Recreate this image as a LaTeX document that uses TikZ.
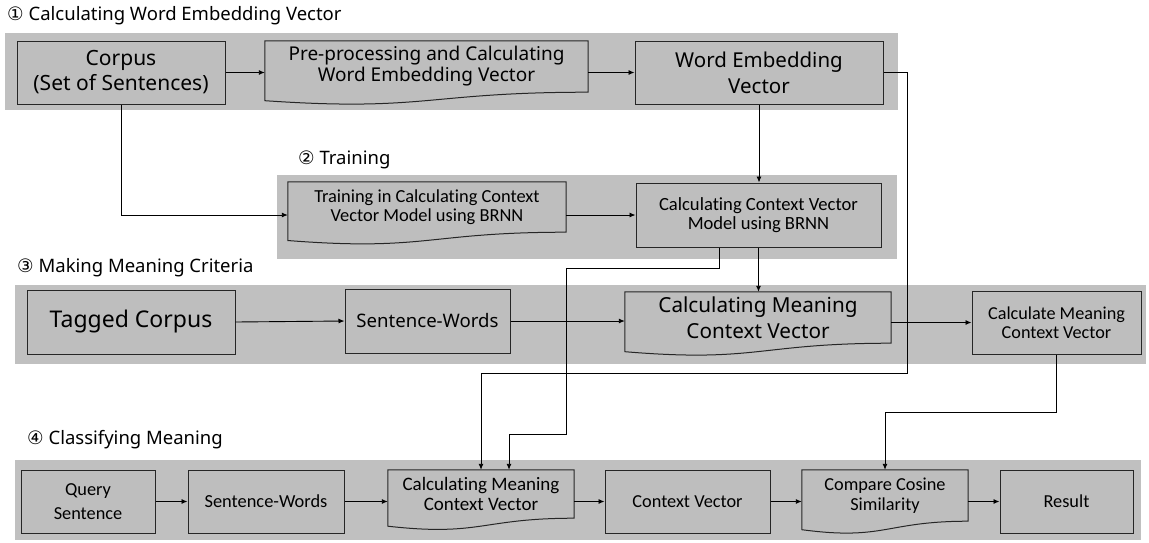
\documentclass[tikz,border=0pt]{standalone}
\usepackage{fontspec}
\setmainfont{Noto Sans}
\newfontfamily\calib[Ligatures=NoCommon]{Carlito}
\newfontfamily\circfont{DejaVu Sans}
\usetikzlibrary{arrows.meta,calc}

\definecolor{bandgray}{RGB}{192,192,192}
\definecolor{boxgray}{RGB}{190,190,190}

\begin{document}
\begin{tikzpicture}[x=1pt,y=-1pt,
    box/.style={draw=black!85, fill=boxgray, line width=1pt, align=center, inner sep=0pt},
    wavebox/.style={fill=boxgray, align=center, inner sep=0pt},
    arr/.style={-{Latex[length=6pt,width=5pt]}, line width=0.9pt},
    title/.style={anchor=west, inner sep=0pt, font=\fontsize{18.5}{22}\selectfont}]
\useasboundingbox (0,0) rectangle (1149,542);

%---------------------------------------------------------------------------------------- BANDS
\fill[bandgray] (5,33) rectangle (898,110);
\fill[bandgray] (277,175) rectangle (897,259);
\fill[bandgray] (15,285) rectangle (1146,364);
\fill[bandgray] (15,460) rectangle (1141,540);

\node[title] (ttlA) at (7,16) {{\circfont ①} Calculating Word Embedding Vector};   %------ step titles
\node[title] (ttlB) at (298,160) {{\circfont ②} Training};
\node[title] (ttlC) at (17,268) {{\circfont ③} Making Meaning Criteria};
\node[title] (ttlD) at (27,440) {{\circfont ④} Classifying Meaning};

%---------------------------------------------------------------------------------------- ROW 1
\node[box, minimum width=208, minimum height=63, font=\fontsize{21}{25}\selectfont] (corpus) at (121,72.5) {Corpus\\(Set of Sentences)};
\node[wavebox, minimum width=323, minimum height=51, font=\fontsize{19}{21}\selectfont] (prep) at (426.5,66.5) {Pre-processing and Calculating\\Word Embedding Vector};
\node[box, minimum width=248, minimum height=63, font=\fontsize{20.5}{26}\selectfont] (wev) at (759,72.5) {Word Embedding\\Vector};

%---------------------------------------------------------------------------------------- ROW 2
\node[wavebox, minimum width=278, minimum height=50, font=\calib\fontsize{18.4}{19.5}\selectfont] (train) at (427,207) {Training in Calculating Context\\Vector Model using BRNN};
\node[box, minimum width=245, minimum height=64, font=\calib\fontsize{18.6}{19.5}\selectfont] (ccvm) at (758.5,215) {Calculating Context Vector\\Model using BRNN};

%---------------------------------------------------------------------------------------- ROW 3
\node[box, minimum width=208, minimum height=64, font=\fontsize{23}{28}\selectfont] (tagged) at (131,322) {Tagged Corpus};
\node[box, minimum width=165, minimum height=64, font=\fontsize{18.6}{22}\selectfont] (swa) at (427.5,321) {Sentence-Words};
\node[wavebox, minimum width=266, minimum height=51, font=\fontsize{20.7}{26}\selectfont] (mcva) at (758,317.5) {Calculating Meaning\\Context Vector};
\node[box, minimum width=169, minimum height=63, font=\calib\fontsize{18.2}{18.5}\selectfont] (calc) at (1056.5,322.5) {Calculate Meaning\\Context Vector};

%---------------------------------------------------------------------------------------- ROW 4
\node[box, minimum width=134, minimum height=63, font=\calib\fontsize{18.3}{24}\selectfont] (query) at (88,501.5) {Query\\Sentence};
\node[box, minimum width=156, minimum height=63, font=\calib\fontsize{18.4}{21}\selectfont] (swb) at (266,501.5) {Sentence-Words};
\node[wavebox, minimum width=186, minimum height=48, font=\calib\fontsize{19}{20}\selectfont] (mcvb) at (481,494) {Calculating Meaning\\Context Vector};
\node[box, minimum width=165, minimum height=63, font=\calib\fontsize{18.3}{21}\selectfont] (ctx) at (687.5,501.5) {Context Vector};
\node[wavebox, minimum width=166, minimum height=51, font=\calib\fontsize{18.3}{19.5}\selectfont] (cos) at (885,495.5) {Compare Cosine\\Similarity};
\node[box, minimum width=133, minimum height=63, font=\calib\fontsize{18.3}{21}\selectfont] (res) at (1066.5,501.5) {Result};

%---------------------------------------------------------------------------------------- wavy bottoms
\foreach \n in {prep,train,mcva,mcvb,cos}{
  \fill[boxgray] (\n.south east) .. controls (\n.south) and ($(\n.south)!-0.381!(\n.north)$) .. ($(\n.south west)!-0.165!(\n.north west)$) -- (\n.south west) -- cycle;
  \draw[line width=1pt, draw=black!85] (\n.north west) -- (\n.north east) -- (\n.south east)
     .. controls (\n.south) and ($(\n.south)!-0.381!(\n.north)$) .. ($(\n.south west)!-0.165!(\n.north west)$) -- cycle;
}

%---------------------------------------------------------------------------------------- CONNECTORS
\coordinate (kA) at (566,268);
\coordinate (kB) at (566,434);
\coordinate (kC) at (907,373);

\draw[arr] (corpus.east) -- (corpus.east -| prep.west);
\draw[arr] (prep.east |- wev.west) -- (wev.west);
\draw[arr] (wev.south) -- (wev.south |- ccvm.north);
\draw[arr] (corpus.south) |- (train.west |- ccvm.west);
\draw[arr] (train.east |- ccvm.west) -- (ccvm.west);
\draw[arr] (ccvm.south) -- (ccvm.south |- mcva.north);

\draw[arr] (tagged.east) -- (swa.west);
\draw[arr] (swa.east) -- (swa.east -| mcva.west);
\draw[arr] (mcva.east |- calc.west) -- (calc.west);

\draw[arr] ([xshift=-39.5pt]ccvm.south) |- (kA) -- (kB) -| ([xshift=28pt]mcvb.north);   %-- model to classifier
\draw[arr] (wev.east) -| (kC) -| (mcvb.north);                                         %-- embedding to classifier
\draw[arr] (calc.south) -- ++(0,58) -| (cos.north);                                    %-- criteria to compare

\draw[arr] (query.east) -- (swb.west);
\draw[arr] (swb.east) -- (swb.east -| mcvb.west);
\draw[arr] (mcvb.east |- ctx.west) -- (ctx.west);
\draw[arr] (ctx.east) -- (ctx.east -| cos.west);
\draw[arr] (cos.east |- res.west) -- (res.west);

\end{tikzpicture}
\end{document}
